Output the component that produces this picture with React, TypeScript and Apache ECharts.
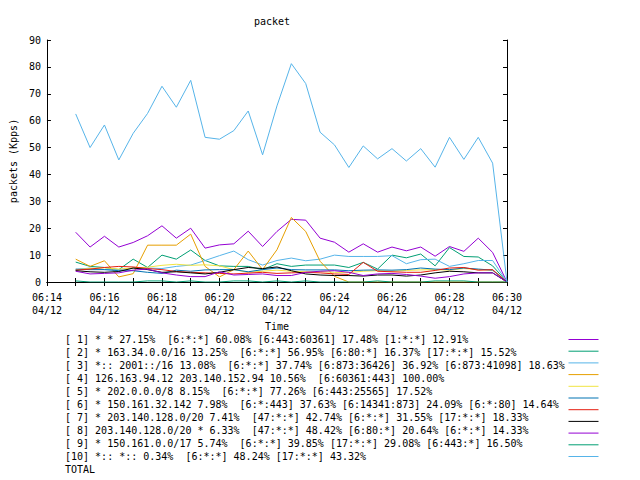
import React, { useEffect, useRef } from "react";
import * as echarts from "echarts";

const times = [
  "06:15:00", "06:15:30", "06:16:00", "06:16:30", "06:17:00", "06:17:30", "06:18:00", "06:18:30",
  "06:19:00", "06:19:30", "06:20:00", "06:20:30", "06:21:00", "06:21:30", "06:22:00", "06:22:30",
  "06:23:00", "06:23:30", "06:24:00", "06:24:30", "06:25:00", "06:25:30", "06:26:00", "06:26:30",
  "06:27:00", "06:27:30", "06:28:00", "06:28:30", "06:29:00", "06:29:30", "06:30:00",
];

const seriesNames = [
  "[ 1] * * 27.15%  [6:*:*] 60.08% [6:443:60361] 17.48% [1:*:*] 12.91%",
  "[ 2] * 163.34.0.0/16 13.25%  [6:*:*] 56.95% [6:80:*] 16.37% [17:*:*] 15.52%",
  "[ 3] *:: 2001::/16 13.08%  [6:*:*] 37.74% [6:873:36426] 36.92% [6:873:41098] 18.63%",
  "[ 4] 126.163.94.12 203.140.152.94 10.56%  [6:60361:443] 100.00%",
  "[ 5] * 202.0.0.0/8 8.15%  [6:*:*] 77.26% [6:443:25565] 17.52%",
  "[ 6] * 150.161.32.142 7.98%  [6:*:443] 37.63% [6:14341:873] 24.09% [6:*:80] 14.64%",
  "[ 7] * 203.140.128.0/20 7.41%  [47:*:*] 42.74% [6:*:*] 31.55% [17:*:*] 18.33%",
  "[ 8] 203.140.128.0/20 * 6.33%  [47:*:*] 48.42% [6:80:*] 20.64% [6:*:*] 14.33%",
  "[ 9] * 150.161.0.0/17 5.74%  [6:*:*] 39.85% [17:*:*] 29.08% [6:443:*] 16.50%",
  "[10] *:: *:: 0.34%  [6:*:*] 48.24% [17:*:*] 43.32%",
  "TOTAL",
];

const s1 = [18.5, 13.0, 17.0, 13.0, 14.7, 17.2, 20.9, 16.3, 20.0, 12.6, 13.8, 14.2, 18.9, 13.2, 18.8, 23.3, 23.0, 16.3, 14.8, 11.1, 14.2, 11.1, 13.0, 11.6, 13.0, 9.6, 13.2, 11.4, 16.3, 11.0, 0];
const s2 = [7.4, 5.8, 5.4, 4.6, 8.5, 5.4, 10.0, 8.5, 11.9, 8.0, 6.0, 5.8, 5.8, 4.6, 6.8, 5.8, 6.3, 6.3, 6.3, 5.4, 7.3, 4.8, 10.0, 9.0, 10.4, 6.0, 12.8, 9.5, 9.3, 6.0, 0];
const s3 = [4.6, 5.2, 4.6, 4.6, 5.0, 5.2, 5.0, 5.8, 6.3, 8.0, 9.8, 11.5, 8.3, 6.3, 8.0, 8.9, 7.9, 8.5, 10.0, 9.5, 9.5, 9.5, 9.8, 6.8, 8.3, 8.5, 5.8, 6.8, 8.0, 8.0, 0];
const s4 = [8.5, 5.8, 7.9, 1.9, 3.1, 13.7, 13.7, 13.7, 17.8, 5.8, 1.9, 4.6, 11.5, 4.6, 12.0, 24.0, 18.8, 7.7, 2.1, 0, 0, 0, 0, 0, 0, 0, 0, 0, 0, 0, 0];
const s5 = [4.6, 5.0, 5.3, 4.8, 5.2, 5.5, 6.2, 6.6, 6.2, 6.4, 6.0, 4.6, 3.6, 4.0, 4.4, 4.0, 3.8, 3.9, 3.6, 3.5, 4.0, 4.2, 4.0, 4.3, 4.5, 4.6, 4.4, 5.0, 4.6, 4.4, 0];
const s6 = [4.8, 4.6, 4.6, 4.2, 4.2, 3.6, 3.2, 4.4, 4.0, 4.5, 4.6, 4.6, 3.8, 4.6, 5.2, 4.6, 4.5, 4.5, 4.5, 4.2, 4.4, 4.5, 4.4, 4.6, 5.2, 4.8, 4.6, 5.2, 4.8, 4.4, 0];
const s7 = [4.4, 4.8, 5.4, 5.8, 5.6, 5.0, 4.6, 3.9, 3.6, 3.4, 3.2, 3.0, 3.3, 3.6, 3.2, 3.4, 3.6, 3.4, 3.0, 2.8, 7.3, 4.0, 3.8, 3.6, 3.6, 4.3, 5.2, 5.4, 4.4, 4.6, 0];
const s8 = [4.2, 3.8, 3.6, 3.9, 5.2, 4.6, 3.6, 3.8, 3.4, 3.0, 3.6, 4.6, 5.4, 5.0, 5.6, 4.2, 3.0, 2.6, 2.4, 2.4, 2.2, 2.6, 2.6, 2.2, 2.6, 3.4, 4.0, 3.8, 3.4, 3.4, 0];
const s9 = [4.0, 3.0, 3.2, 3.4, 4.4, 4.8, 3.4, 2.6, 2.0, 2.0, 3.8, 2.6, 2.8, 3.0, 2.4, 2.4, 3.6, 4.0, 4.2, 3.6, 2.4, 3.0, 3.2, 2.8, 2.2, 1.4, 2.0, 3.0, 3.4, 3.4, 0];
const s10 = [0.4, 0, 0, 0, 0, 0.4, 0.4, 0, 0.4, 0, 0, 0.4, 0.4, 0, 0.4, 0, 0.4, 0, 0, 0, 0, 0.4, 0, 0, 0, 0.4, 0.4, 0.4, 0, 0, 0];
const total = [62.5, 50.0, 58.4, 45.4, 55.3, 62.7, 72.8, 65.0, 75.0, 53.8, 53.1, 56.3, 63.6, 47.3, 65.5, 81.2, 73.8, 55.7, 51.0, 42.6, 50.6, 45.8, 49.6, 45.0, 49.6, 42.7, 53.8, 45.6, 53.8, 44.2, 0];

const seriesValues = [s1, s2, s3, s4, s5, s6, s7, s8, s9, s10, total];
const colors = ["#9400d3", "#009e73", "#56b4e9", "#e69f00", "#f0e442", "#0072b2", "#e51e10", "#000000", "#9400d3", "#009e73", "#56b4e9"];

const xMin = "06:14";
const xMax = "06:30";
const dateLabel = "04/12";
const yTicks = [0, 10, 20, 30, 40, 50, 60, 70, 80, 90];

const toMinutes = (t: string) => {
  const p = t.split(":").map(Number);
  return p[0] * 60 + p[1] + (p[2] || 0) / 60;
};
const pad = (n: number) => String(n).padStart(2, "0");

export default function App() {
  const ref = useRef<HTMLDivElement>(null);
  useEffect(() => {
    if (!ref.current) return;
    const chart = echarts.init(ref.current, null, { renderer: "svg" });
    const mono = "DejaVu Sans Mono";
    const minX = toMinutes(xMin);
    const maxX = toMinutes(xMax);
    const xs = times.map(toMinutes);
    const tickStyle = { show: true, inside: true, length: 4, lineStyle: { color: "#000", width: 1 } };
    const lineStyle = { show: true, lineStyle: { color: "#000", width: 1 } };
    chart.setOption({
      animation: false,
      backgroundColor: "#fff",
      title: {
        text: "packet",
        left: 272,
        top: 16,
        padding: 0,
        textAlign: "center",
        textStyle: { fontFamily: mono, fontSize: 10, fontWeight: "normal", color: "#000" },
      },
      grid: { left: 38, right: 133, top: 40, bottom: 198, show: false },
      legend: [
        {
          data: seriesNames,
          orient: "vertical",
          left: 59,
          top: 333,
          padding: 0,
          height: 150,
          icon: "none",
          itemWidth: 1,
          itemHeight: 13,
          itemGap: 0,
          selectedMode: false,
          textStyle: { fontFamily: mono, fontSize: 10, color: "#000", lineHeight: 13 },
        },
        {
          data: seriesNames,
          orient: "vertical",
          left: 568,
          top: 333,
          padding: 0,
          height: 150,
          itemWidth: 30,
          itemHeight: 13,
          itemGap: 0,
          selectedMode: false,
          itemStyle: { opacity: 0 },
          lineStyle: { width: 1 },
          formatter: () => "",
          textStyle: { fontSize: 10 },
        },
      ],
      xAxis: [
        {
          type: "value",
          min: minX,
          max: maxX,
          interval: 1,
          position: "bottom",
          axisLine: lineStyle,
          axisTick: tickStyle,
          splitLine: { show: false },
          axisLabel: {
            margin: 9,
            showMinLabel: true,
            showMaxLabel: true,
            fontFamily: mono,
            fontSize: 10,
            color: "#000",
            lineHeight: 13,
            formatter: (v: number) => {
              const m = Math.round(v);
              if (m % 2 !== 0) return "";
              return `${pad(Math.floor(m / 60))}:${pad(m % 60)}\n${dateLabel}`;
            },
          },
          name: "Time",
          nameLocation: "middle",
          nameGap: 38,
          nameTextStyle: { fontFamily: mono, fontSize: 10, color: "#000" },
        },
        {
          type: "value",
          min: minX,
          max: maxX,
          interval: 1,
          position: "top",
          axisLine: lineStyle,
          axisTick: tickStyle,
          splitLine: { show: false },
          axisLabel: { show: false },
        },
      ],
      yAxis: [
        {
          type: "value",
          min: yTicks[0],
          max: yTicks[yTicks.length - 1],
          interval: 10,
          position: "left",
          axisLine: lineStyle,
          axisTick: tickStyle,
          splitLine: { show: false },
          axisLabel: { margin: 6, fontFamily: mono, fontSize: 10, color: "#000" },
          name: "packets (Kpps)",
          nameLocation: "middle",
          nameGap: 21,
          nameTextStyle: { fontFamily: mono, fontSize: 10, color: "#000" },
        },
        {
          type: "value",
          min: yTicks[0],
          max: yTicks[yTicks.length - 1],
          interval: 10,
          position: "right",
          axisLine: lineStyle,
          axisTick: tickStyle,
          splitLine: { show: false },
          axisLabel: { show: false },
        },
      ],
      series: seriesNames.map((name, i) => ({
        name,
        type: "line",
        xAxisIndex: 0,
        yAxisIndex: 0,
        symbol: "none",
        showSymbol: false,
        color: colors[i],
        lineStyle: { width: 1, color: colors[i] },
        data: xs.map((x, j) => [x, seriesValues[i][j]]),
      })),
    });
    return () => chart.dispose();
  }, []);
  return <div ref={ref} style={{ position: "fixed", left: 0, top: 0, width: 640, height: 480 }} />;
}
